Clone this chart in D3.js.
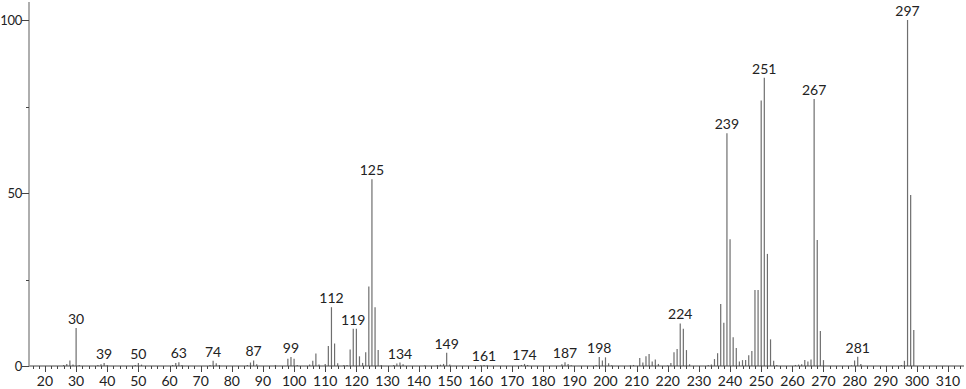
<!DOCTYPE html>
<html lang="en">
<head>
    <meta charset="utf-8">
    <title>Mass spectrum</title>
    <style>
body {
    margin: 0;
    background: #fff;
    font-family: Lato, "Open Sans", sans-serif;
}

.peak {
    stroke: #6e6e6e;
    stroke-width: 1.2;
}

.lbl {
    font-size: 14px;
    fill: #222;
    text-anchor: middle;
}

.ylbl {
    font-size: 13px;
    fill: #222;
    text-anchor: end;
    letter-spacing: -0.3px;
}
    </style>
    <script src="https://d3js.org/d3.v7.min.js"></script>
</head>
<body>
<div id="chart"></div>
<script type="text/javascript">
const width = 966;
const height = 389;

// m/z and relative intensity
const masses = [26, 27, 28, 29, 30, 31, 37, 38, 39, 40, 49, 50, 51, 61, 62, 63, 64,
    73, 74, 75, 76, 85, 86, 87, 88, 94, 98, 99, 100, 101, 105, 106, 107, 108,
    110, 111, 112, 113, 114, 116, 117, 118, 119, 120, 121, 122, 123, 124, 125, 126, 127, 128,
    132, 133, 134, 135, 142, 146, 147, 148, 149, 150, 160, 161, 162, 173, 174, 175,
    186, 187, 188, 189, 197, 198, 199, 200, 201, 202, 208, 209,
    211, 212, 213, 214, 215, 216, 217, 220, 221, 222, 223, 224, 225, 226, 227,
    233, 234, 235, 236, 237, 238, 239, 240, 241, 242, 243, 244, 245, 246, 247,
    248, 249, 250, 251, 252, 253, 254, 255, 261, 262, 263, 264, 265, 266, 267, 268, 269, 270,
    279, 280, 281, 282, 295, 296, 297, 298, 299];
const intensities = [0.3, 0.6, 1.6, 0.4, 11, 0.3, 0.3, 0.5, 0.9, 0.3, 0.3, 0.9, 0.4, 0.3, 0.9, 1.1, 0.3,
    0.3, 1.5, 0.8, 0.3, 0.3, 1.0, 1.6, 0.5, 0.3, 2.1, 2.6, 2.1, 0.3, 0.4, 1.5, 3.6, 0.4,
    0.6, 5.8, 17, 6.5, 0.8, 0.3, 0.3, 4.8, 10.8, 10.8, 2.8, 0.9, 4.0, 23, 54, 17, 4.6, 0.3,
    0.3, 0.7, 1.0, 0.5, 0.2, 0.3, 0.4, 0.6, 3.8, 0.4, 0.2, 0.3, 0.2, 0.3, 0.6, 0.3,
    0.5, 1.1, 0.6, 0.2, 0.3, 2.6, 1.6, 2.5, 0.8, 0.2, 0.2, 0.3,
    2.3, 1.0, 2.8, 3.5, 1.3, 1.9, 0.6, 0.2, 0.9, 4.0, 4.9, 12.3, 10.8, 4.6, 0.5,
    0.3, 0.4, 2.0, 3.7, 17.9, 12.5, 67.3, 36.6, 8.3, 5.2, 1.3, 1.7, 1.7, 3.1, 4.3,
    22, 22, 76.7, 83.3, 32.4, 7.7, 1.5, 0.3, 0.3, 0.4, 0.5, 1.7, 1.3, 1.9, 77.2, 36.4, 10.1, 1.7,
    0.2, 1.6, 2.7, 0.6, 0.3, 1.5, 100, 49.4, 10.4];

// peaks that carry a label
const labelled = [30, 39, 50, 63, 74, 87, 99, 112, 119, 125, 134, 149, 161, 174, 187, 198,
    224, 239, 251, 267, 281, 297];

const xTicks = d3.range(20, 311, 10);
const xMinor = d3.range(16, 315, 2);
const yTicks = [0, 50, 100];
const yMinor = [25, 75];

const peaks = masses.map((m, i) => ({mz: m, ab: intensities[i]}));

const svg = d3.select("#chart").append("svg")
    .attr("width", width)
    .attr("height", height);

const x = d3.scaleLinear().domain([15, 315]).range([29.4, 963.6]);
const y = d3.scaleLinear().domain([0, 100]).range([366, 20]);

// peaks
svg.append("g")
    .selectAll("line")
    .data(peaks)
    .join("line")
    .attr("class", "peak")
    .attr("x1", d => x(d.mz))
    .attr("x2", d => x(d.mz))
    .attr("y1", y(0))
    .attr("y2", d => y(d.ab));

// peak labels
svg.append("g")
    .selectAll("text")
    .data(peaks.filter(d => labelled.includes(d.mz)))
    .join("text")
    .attr("class", "lbl")
    .attr("x", d => x(d.mz))
    .attr("y", d => y(d.ab) - 4)
    .text(d => d.mz);

// x axis
const xAxis = svg.append("g").attr("transform", `translate(0,${y(0)})`);
xAxis.append("line")
    .attr("x1", 29).attr("x2", 964)
    .attr("stroke", "#444");
xAxis.selectAll(".minor")
    .data(xMinor)
    .join("line")
    .attr("x1", d => Math.round(x(d)) + 0.5)
    .attr("x2", d => Math.round(x(d)) + 0.5)
    .attr("y1", 0).attr("y2", d => d % 10 === 0 ? 6 : 3)
    .attr("stroke", "#444");
xAxis.selectAll(".tl")
    .data(xTicks)
    .join("text")
    .attr("class", "lbl")
    .attr("x", d => x(d))
    .attr("y", 20)
    .text(d => d);

// y axis
const yAxis = svg.append("g");
yAxis.append("line")
    .attr("x1", 29).attr("x2", 29)
    .attr("y1", 2).attr("y2", y(0))
    .attr("stroke", "#9a9a9a")
    .attr("stroke-width", 1.6);
yAxis.selectAll(".mj")
    .data(yTicks)
    .join("line")
    .attr("x1", 22).attr("x2", 29)
    .attr("y1", d => Math.round(y(d)) + 0.5)
    .attr("y2", d => Math.round(y(d)) + 0.5)
    .attr("stroke", "#444");
yAxis.selectAll(".mn")
    .data(yMinor)
    .join("line")
    .attr("x1", 26).attr("x2", 29)
    .attr("y1", d => Math.round(y(d)) + 0.5)
    .attr("y2", d => Math.round(y(d)) + 0.5)
    .attr("stroke", "#444");
yAxis.selectAll("text")
    .data(yTicks)
    .join("text")
    .attr("class", "ylbl")
    .attr("x", 22)
    .attr("y", d => y(d) + 5)
    .text(d => d);
</script>
</body>
</html>
